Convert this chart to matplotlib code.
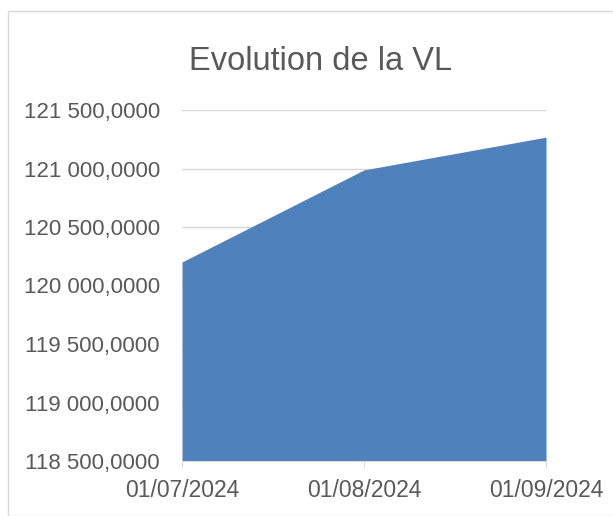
import matplotlib
matplotlib.use("Agg")
import matplotlib.pyplot as plt
from matplotlib.patches import Rectangle
from matplotlib.ticker import FuncFormatter

plt.rcParams["font.family"] = ["Liberation Sans", "DejaVu Sans"]

dates = ["01/07/2024", "01/08/2024", "01/09/2024"]
vl = [120201, 120988, 121268]

TXT = "#595959"
GRID = "#d9d9d9"


def fr_fmt(v, pos):
    s = "{:,.4f}".format(v)
    ent, dec = s.split(".")
    return ent.replace(",", " ") + "," + dec


fig = plt.figure(figsize=(6.13, 5.16), dpi=100)
fig.patches.append(Rectangle((8 / 613, 0), 1.0, 1 - 11 / 516, transform=fig.transFigure,
                             fill=False, edgecolor=GRID, linewidth=1))
ax = fig.add_axes([182 / 613, 1 - 461 / 516, (546 - 182) / 613, (461 - 110) / 516])

x = list(range(len(dates)))
ax.fill_between(x, vl, 118500, color="#4f81bd", linewidth=0, zorder=2)

ax.set_xlim(0, 2)
ax.set_ylim(118500, 121500)
ax.set_yticks([118500 + 500 * i for i in range(7)])
ax.yaxis.set_major_formatter(FuncFormatter(fr_fmt))
ax.set_xticks(x)
ax.set_xticklabels(dates)

ax.grid(axis="y", color=GRID, linewidth=1, zorder=0)
for s in ["top", "right", "left"]:
    ax.spines[s].set_visible(False)
ax.spines["bottom"].set_color(GRID)
ax.tick_params(axis="y", length=0, pad=16, labelsize=16, labelcolor=TXT)
ax.tick_params(axis="x", length=4, color=GRID, pad=9, labelsize=16.5, labelcolor=TXT)

fig.text(321 / 613, 1 - 61 / 516, "Evolution de la VL", ha="center", va="center",
         fontsize=23.5, color=TXT)

fig.savefig("out.png", dpi=100)
